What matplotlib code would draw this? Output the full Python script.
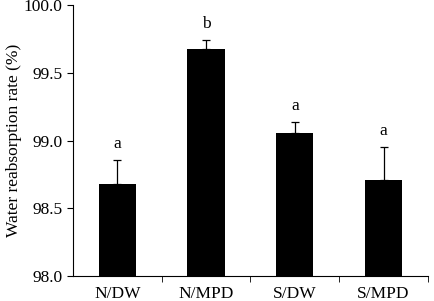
import numpy as np
import matplotlib.pyplot as plt

groups = ["N/DW", "N/MPD", "S/DW", "S/MPD"]
rate = [98.68, 99.675, 99.053, 98.708]
err = [0.175, 0.067, 0.086, 0.246]
letters = ["a", "b", "a", "a"]


def main():
    plt.rcParams["font.family"] = ["Liberation Serif", "DejaVu Serif"]
    plt.rcParams["font.size"] = 12.5

    fig = plt.figure(figsize=(4.34, 3.01), dpi=100)
    ax = fig.add_axes([0.168, 0.083, 0.818, 0.9])

    x = np.arange(len(groups))
    lower = np.zeros(len(err))
    ax.bar(x, np.array(rate) - 98.0, bottom=98.0, width=0.42, color="black",
           yerr=[lower, err], error_kw=dict(ecolor="black", elinewidth=0.9,
                                            capsize=3, capthick=0.9))
    for xi, r, e, lab in zip(x, rate, err, letters):
        ax.text(xi, r + e + 0.06, lab, ha="center", va="bottom")

    ax.set_xlim(-0.5, 3.5)
    ax.set_ylim(98.0, 100.0)
    ax.set_yticks([98.0, 98.5, 99.0, 99.5, 100.0])
    ax.set_yticklabels(["98.0", "98.5", "99.0", "99.5", "100.0"])
    ax.set_xticks(x)
    ax.set_xticklabels(groups)
    ax.set_xticks([0.5, 1.5, 2.5, 3.5], minor=True)
    ax.tick_params(axis="x", which="major", length=0, pad=7)
    ax.tick_params(axis="x", which="minor", length=4, direction="out")
    ax.tick_params(axis="y", length=4, direction="out")
    ax.spines["top"].set_visible(False)
    ax.spines["right"].set_visible(False)
    ax.set_ylabel("Water reabsorption rate (%)", labelpad=1)

    fig.savefig("out.png", dpi=100)


if __name__ == "__main__":
    main()
